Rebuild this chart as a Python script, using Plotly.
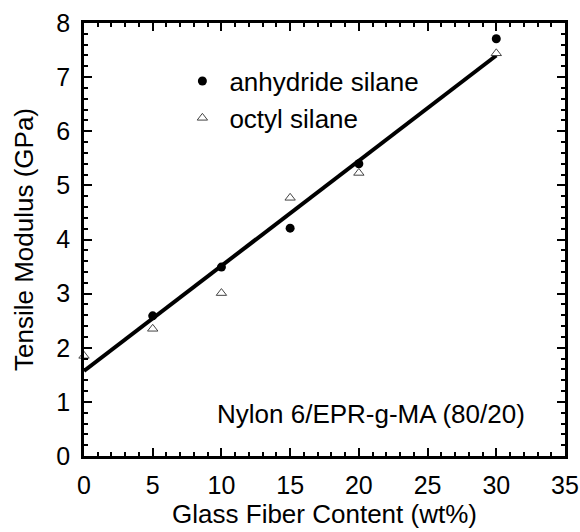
import plotly.graph_objects as go

# Data
anh_x = [5, 10, 15, 20, 30]
anh_y = [2.59, 3.49, 4.21, 5.40, 7.71]
oct_x = [0, 5, 10, 15, 20, 30]
oct_y = [1.85, 2.35, 3.01, 4.77, 5.23, 7.44]
fit_x = [0, 30]
fit_y = [1.57, 7.40]

FONT = "Liberation Sans, Arial, Helvetica, sans-serif"
FS = 26
TFS = 25

fig = go.Figure()
fig.add_trace(go.Scatter(x=fit_x, y=fit_y, mode="lines",
                         line=dict(color="black", width=4), showlegend=False,
                         hoverinfo="skip"))
fig.add_trace(go.Scatter(x=anh_x, y=anh_y, mode="markers", name="anhydride silane",
                         marker=dict(symbol="circle", size=9, color="black"),
                         cliponaxis=False))
fig.add_trace(go.Scatter(x=oct_x, y=oct_y, mode="markers", name="octyl silane",
                         marker=dict(symbol="triangle-up", size=9, color="white",
                                     line=dict(color="#444444", width=1)),
                         cliponaxis=False))

axis_common = dict(
    showline=True, linecolor="black", linewidth=2.5, mirror="allticks",
    ticks="inside", ticklen=8, tickwidth=1.8, tickcolor="black",
    showgrid=False, zeroline=False, automargin=False,
    ticklabeloverflow="allow",
    tickfont=dict(family=FONT, size=TFS, color="black"),
)

fig.update_xaxes(range=[0, 35], dtick=5, tick0=0, ticklabelstandoff=5,
                 minor=dict(dtick=1, ticks="inside", ticklen=4, tickwidth=1.5,
                            tickcolor="black", showgrid=False),
                 title=dict(text="Glass Fiber Content (wt%)",
                            font=dict(family=FONT, size=FS, color="black"),
                            standoff=4),
                 **axis_common)
fig.update_yaxes(range=[0, 8], dtick=1, tick0=0, ticklabelstandoff=6,
                 minor=dict(dtick=0.2, ticks="inside", ticklen=4, tickwidth=1.5,
                            tickcolor="black", showgrid=False),
                 title=dict(text="Tensile Modulus (GPa)",
                            font=dict(family=FONT, size=FS, color="black"),
                            standoff=16),
                 **axis_common)

fig.add_annotation(x=0.92, y=0.097, xref="paper", yref="paper",
                   text="Nylon 6/EPR-g-MA (80/20)", showarrow=False,
                   xanchor="right", yanchor="middle",
                   font=dict(family=FONT, size=FS, color="black"))

fig.update_layout(
    width=580, height=532,
    margin=dict(l=84, r=15, t=23, b=76, autoexpand=False),
    plot_bgcolor="white", paper_bgcolor="white",
    legend=dict(x=0.19, y=0.92, xanchor="left", yanchor="top",
                bgcolor="rgba(0,0,0,0)", borderwidth=0, itemwidth=44,
                font=dict(family=FONT, size=FS, color="black")),
)

fig.write_html("out.html")
